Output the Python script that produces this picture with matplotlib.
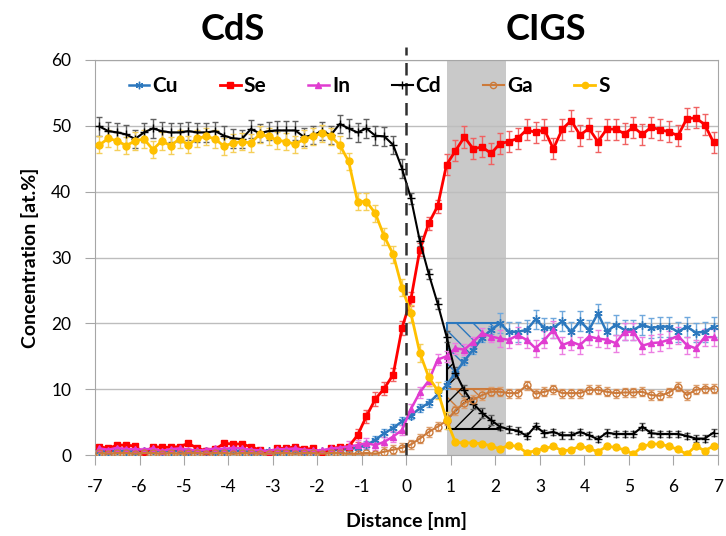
import numpy as np
import matplotlib
matplotlib.use("Agg")
import matplotlib.pyplot as plt

plt.rcParams['font.family'] = ['Lato', 'DejaVu Sans']
plt.rcParams['hatch.linewidth'] = 1.0
plt.rcParams['axes.unicode_minus'] = False

# distance grid (0.2 nm bins)
distance = np.linspace(-6.9, 6.9, 70)

cu = [0.6, 0.5, 0.7, 0.6, 0.5, 0.6, 0.7, 0.5, 0.6, 0.6, 0.5, 0.7, 0.6, 0.5, 0.6,
      0.7, 0.6, 0.5, 0.6, 0.6, 0.5, 0.6, 0.7, 0.5, 0.6, 0.6, 0.7, 0.8, 0.9, 1.1,
      1.5, 2.3, 3.3, 4.1, 5.1, 6.0, 7.1, 7.9, 9.2, 10.6, 12.5, 14.3, 16.0, 17.8, 19.0,
      20.0, 18.7, 18.7, 19.0, 20.6, 19.3, 19.3, 20.3, 18.7, 20.3, 19.0, 21.5, 18.7,
      19.8, 19.0, 19.0, 19.8, 19.3, 19.5, 19.5, 18.7, 19.5, 18.6, 18.7, 19.5]
se = [1.27, 1.0, 1.5, 1.5, 1.37, 0.25, 1.27, 1.17, 1.17, 1.27, 1.77, 1.0, 0.66, 0.86,
      1.77, 1.67, 1.67, 1.27, 0.76, 0.15, 1.0, 1.0, 1.27, 0.86, 1.0, 0.15, 1.0, 1.17, 1.27,
      3.0, 5.9, 8.5, 10.1, 12.2, 19.3, 23.7, 31.2, 35.2, 37.8,
      44.1, 46.2, 48.3, 46.5, 46.8, 45.8, 47.3, 47.6, 48.1, 49.4, 49.0, 49.4, 46.5, 49.5,
      50.8, 48.6, 49.6, 47.6, 49.5, 49.5, 48.8, 49.8, 48.7, 49.8, 49.4, 49.1, 48.5, 51.1,
      51.2, 50.2, 47.5]
in_ = [1.0, 0.8, 1.1, 0.9, 0.9, 0.8, 1.0, 0.6, 0.9, 1.0, 0.8, 0.7, 0.8, 1.0, 0.9, 1.1,
       1.0, 0.8, 0.7, 0.6, 0.9, 0.9, 1.0, 0.8, 0.7, 0.7, 1.0, 1.1,
       1.3, 1.5, 1.8, 1.5, 2.0, 2.8, 3.8, 7.0, 9.5, 11.3, 14.5, 15.0, 16.2, 16.0, 17.2, 18.5, 18.0,
       17.7, 17.5, 18.2, 17.5, 16.2, 17.5, 19.0, 16.7, 17.2, 16.7, 18.0, 17.7, 17.5, 17.0,
       18.7, 18.7, 16.6, 17.0, 17.1, 17.5, 18.1, 16.7, 16.2, 17.9, 17.9]
cd = [49.9, 49.2, 49.0, 48.7, 48.0, 49.0, 49.6, 49.2, 49.0, 49.0, 49.2, 49.0, 49.0, 49.2,
      48.5, 48.1, 48.0, 49.5, 48.9, 49.2, 49.3, 49.3, 49.3, 48.3, 48.6, 49.2, 48.6, 50.3,
      49.6, 49.0,
      49.6, 48.5, 48.4, 47.1, 43.5,
      39.0, 32.5, 27.5, 23.0, 18.0, 12.5, 9.8, 7.8, 6.4, 5.3,
      4.3, 3.9, 3.7, 2.9, 4.4, 3.3, 3.5, 3.0, 3.0, 3.5, 3.0, 2.4, 3.4, 3.2, 3.2, 3.2, 4.3,
      3.3, 3.2, 3.2, 3.2, 2.9, 2.5, 2.5, 3.4]
ga = [0.3, 0.2, 0.3, 0.3, 0.2, 0.3, 0.3, 0.2, 0.3, 0.2, 0.3, 0.3, 0.2, 0.3, 0.3, 0.2,
      0.3, 0.3, 0.2, 0.2, 0.3, 0.3, 0.2, 0.3, 0.3, 0.2, 0.3, 0.3, 0.2, 0.2, 0.3, 0.2,
      0.5, 0.8, 1.1, 1.6, 2.5, 3.5, 4.3, 5.2, 6.8, 7.9, 8.4, 9.1, 9.6,
      9.6, 9.4, 9.4, 10.6, 9.3, 9.6, 10.0, 9.4, 9.4, 9.4, 9.9, 9.9, 9.6, 9.4, 9.5, 9.5,
      9.6, 9.1, 9.0, 9.5, 10.4, 9.1, 9.9, 10.1, 10.1]
s = [47.1, 48.1, 47.7, 47.0, 47.7, 48.0, 46.4, 47.7, 47.0, 48.0, 47.1, 48.1, 48.4, 48.0,
     46.9, 47.4, 47.6, 47.4, 48.7, 48.4, 47.8, 47.6, 47.2, 48.0, 48.4, 48.9, 48.4, 47.1,
     44.6, 38.5,
     38.5, 36.7, 33.2, 30.5, 25.4, 21.5, 15.5, 11.8, 9.8, 5.3, 1.9, 1.85, 1.85, 1.7, 1.4,
     0.9, 1.5, 1.3, 0.35, 0.65, 1.0, 1.3, 0.65, 0.76, 1.37, 1.0, 0.5, 1.3, 1.17, 0.76,
     0.15, 1.3, 1.67, 1.67, 1.3, 0.86, 0.1, 1.37, 0.65, 1.37]

# rough error bar sizes (CdS side / interface / CIGS side)
cu_err = [0.2] * 30 + [0.6] * 15 + [1.5] * 25
se_err = [0.3] * 29 + [1.0] * 10 + [1.6] * 31
in_err = [0.2] * 28 + [0.8] * 17 + [1.3] * 25
cd_err = [1.4] * 35 + [0.8] * 10 + [0.5] * 25
ga_err = [0.1] * 32 + [0.7] * 13 + [0.7] * 25
s_err = [1.3] * 40 + [0.3] * 30

band = (0.91, 2.24)     # grey interface band
box_x = (0.9, 2.1)      # hatched boxes
cu_ref, ga_ref, cd_ref = 20, 10, 4

fig = plt.figure(figsize=(7.26, 5.36), dpi=100)
ax = fig.add_axes([95 / 726, 81 / 536, 623 / 726, 395 / 536])

series = [
    ("Cu", cu, cu_err, '#2C78BE', '#6FA8DC', dict(marker=(6, 2, 0), ms=6), 1.8),
    ("Se", se, se_err, '#FF0000', '#F06262', dict(marker='s', ms=5), 2.0),
    ("In", in_, in_err, '#E03CD0', '#EC7FE2', dict(marker='^', ms=5), 1.8),
    ("Cd", cd, cd_err, '#000000', '#606060', dict(marker='+', ms=6), 1.5),
    ("Ga", ga, ga_err, '#CC7A3A', '#DDA070', dict(marker='o', ms=5, mfc='none'), 1.5),
    ("S", s, s_err, '#FFC000', '#F5CF5A', dict(marker='o', ms=5), 2.0),
]

handles = []
for name, y, err, col, ecol, mk, lw in series:
    c = ax.errorbar(distance, y, yerr=err, color=col, ecolor=ecol, elinewidth=1.0,
                    capsize=2.5, capthick=1.0, lw=lw, label=name, zorder=3, **mk)
    handles.append(c[0])

ax.axvspan(band[0], band[1], color='#C9C9C9', zorder=0.2, lw=0)

# hatched boxes at the interface
x = np.asarray(distance)
m = (x >= box_x[0] - 1e-6) & (x <= box_x[1] + 1e-6)
for y, ref, col, hatch in [(cu, cu_ref, '#2C78BE', '\\\\'),
                           (ga, ga_ref, '#CC7A3A', '\\\\'),
                           (cd, cd_ref, '#000000', '//')]:
    yy = np.asarray(y)[m]
    xx = x[m]
    ax.fill_between(xx, yy, ref, facecolor='none', edgecolor=col, hatch=hatch,
                    lw=0, zorder=2)
    ax.plot([xx[0], xx[0]], [yy[0], ref], color=col, lw=1.5, zorder=2)
    ax.plot([xx[0], xx[-1]], [ref, ref], color=col, lw=1.5, zorder=2)

ax.vlines(0, 0, 61.9, colors='#303030', linestyles=(0, (5, 3)), lw=1.8,
          clip_on=False, zorder=4)

ax.set_xlim(-7, 7)
ax.set_ylim(0, 60)
ax.set_xticks(range(-7, 8))
ax.set_yticks(range(0, 61, 10))
ax.set_axisbelow(True)
ax.yaxis.grid(True, color='#BDBDBD', lw=1)
for sp in ax.spines.values():
    sp.set_color('#A6A6A6')
ax.tick_params(axis='both', direction='out', length=7, color='#A6A6A6',
               labelsize=12.5, pad=10)

ax.set_xlabel("Distance [nm]", fontsize=14, fontweight='bold')
ax.set_ylabel("Concentration [at.%]", fontsize=14, fontweight='bold')
ax.xaxis.set_label_coords(0.5, -0.145)
ax.yaxis.set_label_coords(-0.09, 0.5)

ax.legend(handles=handles, labels=[t[0] for t in series], ncol=6, loc='center',
          bbox_to_anchor=(0.44, 0.934), frameon=False,
          prop={'weight': 'bold', 'size': 15}, handlelength=1.0, handletextpad=0.15,
          columnspacing=2.0, borderaxespad=0, markerscale=0.9)

fig.text(233 / 726, 1 - 30 / 536, "CdS", ha='center', va='center',
         fontsize=26, fontweight='bold')
fig.text(546 / 726, 1 - 30 / 536, "CIGS", ha='center', va='center',
         fontsize=26, fontweight='bold')

fig.savefig("out.png", dpi=100)
